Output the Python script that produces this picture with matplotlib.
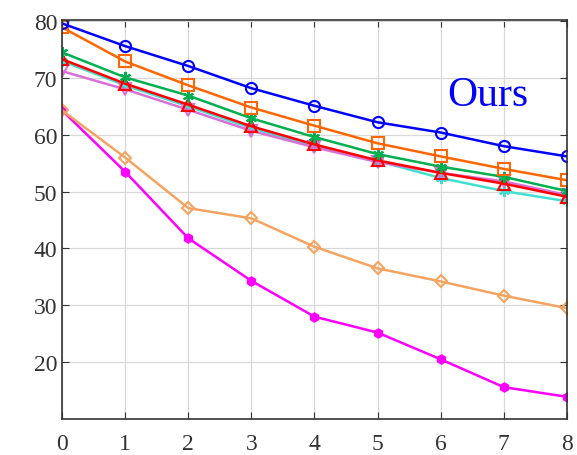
import numpy as np
import matplotlib
matplotlib.use("Agg")
import matplotlib.pyplot as plt

plt.rcParams['font.family'] = ['Liberation Serif', 'DejaVu Serif']

steps = np.arange(0, 9)
ours = [79.6, 75.6, 72.1, 68.2, 65.1, 62.2, 60.4, 58.0, 56.2]
orange_sq = [78.9, 72.9, 68.7, 64.8, 61.6, 58.5, 56.2, 54.0, 52.0]
green_ast = [74.5, 70.1, 66.9, 62.9, 59.6, 56.6, 54.4, 52.6, 50.1]
red_tri = [73.3, 69.0, 65.3, 61.5, 58.3, 55.5, 53.3, 51.4, 49.1]
cyan_ast = [73.0, 68.7, 65.0, 61.2, 58.0, 55.4, 52.4, 50.1, 48.3]
violet_dn = [71.2, 68.0, 64.4, 60.7, 57.8, 55.2, 53.3, 51.8, 49.4]
sand_dia = [64.3, 56.0, 47.1, 45.3, 40.3, 36.5, 34.2, 31.7, 29.5]
magenta_hex = [64.3, 53.5, 41.8, 34.3, 28.0, 25.2, 20.5, 15.6, 13.9]

series = [
    (magenta_hex, '#FF00FF', 'h', True),
    (sand_dia, '#F4A460', 'D', False),
    (cyan_ast, '#40E0D0', (6, 2, 0), False),
    (violet_dn, '#DA70D6', 'v', False),
    (red_tri, '#FF0000', '^', False),
    (green_ast, '#00B050', (6, 2, 0), False),
    (orange_sq, '#FF6600', 's', False),
    (ours, '#0000FF', 'o', False),
]

fig = plt.figure(figsize=(5.77, 4.56), dpi=100)
ax = fig.add_axes([0.1075, 0.079, 0.875, 0.875])

for vals, col, mk, filled in series:
    ms = 6 if mk == 'D' else 8
    if filled:
        ms = 6
    ax.plot(steps, vals, color=col, lw=1.8, marker=mk, ms=ms,
            mfc=col if filled else 'none', mec=col, mew=1.5)

ax.text(6.1, 67.0, 'Ours', color='#0000FF', fontsize=30, va='center', ha='left')

ax.set_xlim(0, 8)
ax.set_ylim(10, 80.2)
ax.set_xticks(steps)
ax.set_yticks(np.arange(20, 81, 10))
ax.grid(True, color='#d9d9d9', lw=0.9)
ax.set_axisbelow(True)
ax.tick_params(direction='in', top=True, right=True, labelsize=17,
               colors='#333333', length=5)
ax.tick_params(axis='x', pad=10)
for s in ax.spines.values():
    s.set_color('#333333')
    s.set_linewidth(1.2)

plt.savefig("out.png", dpi=100)
